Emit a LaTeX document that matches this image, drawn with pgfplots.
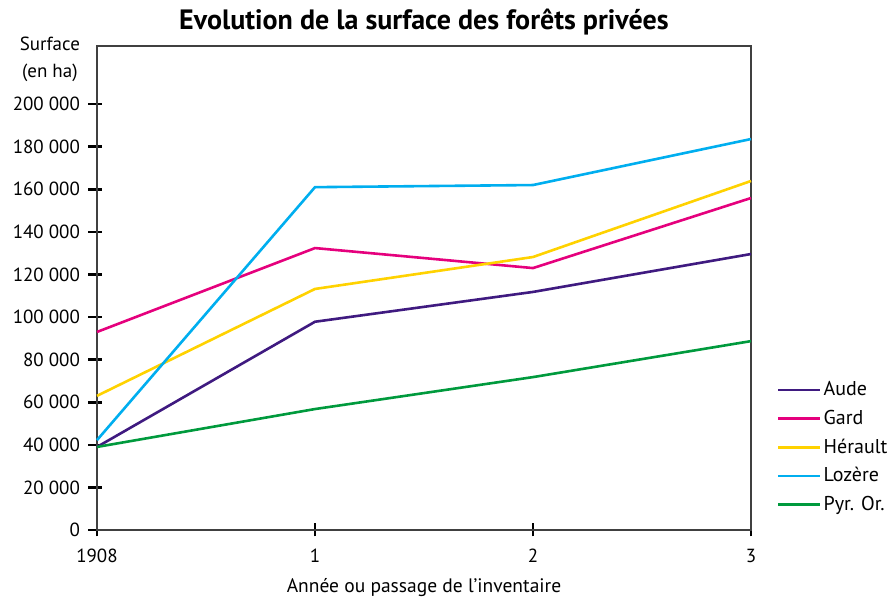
\documentclass[border=0pt]{standalone}
\usepackage{fontspec}
\setmainfont{PT Sans}
\usepackage{pgfplots}
\pgfplotsset{compat=1.18}
\definecolor{cAude}{HTML}{3F1A80}
\definecolor{cGard}{HTML}{E5007D}
\definecolor{cHer}{HTML}{FFD200}
\definecolor{cLoz}{HTML}{00AEEF}
\definecolor{cPyr}{HTML}{009A3D}
\begin{document}
\fontsize{19}{23}\selectfont
\begin{tikzpicture}
\useasboundingbox (-97pt,-71pt) rectangle (798pt,530pt);
\begin{axis}[
  at={(0pt,0pt)}, anchor=south west,
  scale only axis, width=654pt, height=484pt,
  xmin=0, xmax=3, ymin=0, ymax=227300,
  xtick={0,1,2,3}, xticklabels={1908,1,2,3},
  ytick={0,20000,40000,60000,80000,100000,120000,140000,160000,180000,200000},
  yticklabels={0,20 000,40 000,60 000,80 000,100 000,120 000,140 000,160 000,180 000,200 000},
  scaled y ticks=false, scaled x ticks=false,
  axis line style={line width=1.3pt, black!75},
  every tick/.style={line width=2.6pt, black},
  major tick length=13pt,
  tick align=center,
  y tick style={xshift=-2pt},
  xtick pos=bottom, ytick pos=left,
  yticklabel style={xshift=-4pt},
  xticklabel style={yshift=-6pt},
  xlabel={\fontsize{19.5}{23}\selectfont Année ou passage de l’inventaire},
  xlabel style={yshift=-3pt},
  title={\fontsize{28}{30}\selectfont\bfseries Evolution de la surface des forêts privées},
  title style={yshift=-2pt},
  legend style={draw=none, fill=none, at={(1.035,0.026)}, anchor=south west,
    row sep=7.5pt, font=\fontsize{20}{23}\selectfont},
  legend cell align=left,
  legend image code/.code={\path (0pt,0pt) -- (42pt,0pt); \draw[#1, line width=2.6pt] (0pt,0pt) -- (30pt,0pt);},
  every axis plot/.append style={line width=2.6pt},
  clip=false,
]
\addplot[cAude] coordinates {(0,39000) (1,97800) (2,111800) (3,129600)};
\addlegendentry{Aude}
\addplot[cGard] coordinates {(0,93000) (1,132400) (2,123000) (3,155900)};
\addlegendentry{Gard}
\addplot[cHer] coordinates {(0,63000) (1,113200) (2,128200) (3,163900)};
\addlegendentry{Hérault}
\addplot[cLoz] coordinates {(0,42200) (1,161000) (2,162000) (3,183600)};
\addlegendentry{Lozère}
\addplot[cPyr] coordinates {(0,39000) (1,56800) (2,71800) (3,88700)};
\addlegendentry{Pyr. Or.}
\node[align=center, anchor=center, font=\fontsize{19}{27}\selectfont] at (rel axis cs:-0.072,0.972) {Surface\\(en ha)};
\end{axis}
\end{tikzpicture}
\end{document}
